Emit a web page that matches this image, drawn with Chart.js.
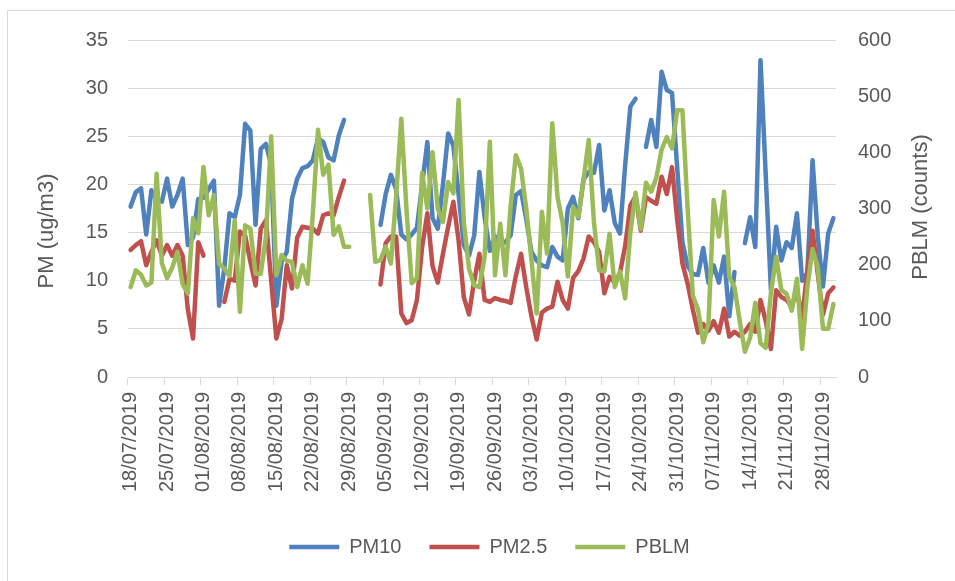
<!DOCTYPE html>
<html>
<head>
<meta charset="utf-8">
<script src="https://cdn.jsdelivr.net/npm/chart.js@4.4.0/dist/chart.umd.min.js"></script>
<style>
  html, body { margin: 0; padding: 0; background: #fff; }
  #wrap { position: relative; width: 955px; height: 581px; overflow: hidden; }
  #frame { position: absolute; left: 7px; top: 10px; width: 970px; height: 600px;
           border: 1px solid #d9d9d9; box-sizing: border-box; pointer-events: none; }
  canvas { position: absolute; left: 0; top: 0; }
</style>
</head>
<body>
<div id="wrap">
  <canvas id="myChart" width="955" height="581"></canvas>
  <div id="frame"></div>
</div>
<script>
const FONT = "'Liberation Sans', Arial, sans-serif";
const TEXT_COLOR = '#595959';
const GRID_COLOR = '#d9d9d9';

// daily categories, 18/07/2019 .. 30/11/2019
const firstDay = { year: 2019, month: 7, day: 18 };
const dayCount = 136;

// dates that get a label on the axis (weekly)
const tickLabels = [
  '18/07/2019', '25/07/2019', '01/08/2019', '08/08/2019', '15/08/2019',
  '22/08/2019', '29/08/2019', '05/09/2019', '12/09/2019', '19/09/2019',
  '26/09/2019', '03/10/2019', '10/10/2019', '17/10/2019', '24/10/2019',
  '31/10/2019', '07/11/2019', '14/11/2019', '21/11/2019', '28/11/2019'
];

const pm10 = [
  17.7, 19.2, 19.6, 14.8, 19.4, 18.4, 18.2, 20.6, 17.7, 18.9,
  20.6, 13.7, 14.5, 18.5, 18.6, 19.5, 20.4, 7.4, 11.3, 17.0,
  16.6, 18.9, 26.3, 25.6, 15.8, 23.7, 24.2, 22.0, 7.4, 12.0,
  13.0, 18.5, 20.6, 21.7, 21.9, 22.5, 24.8, 24.4, 22.8, 22.5,
  25.1, 26.7, null, null, null, null, null, null, 15.8, 19.0,
  21.0, 19.5, 14.8, 14.3, 14.8, 15.5, 20.0, 24.4, 16.5, 15.4,
  20.0, 25.3, 24.0, 19.0, 13.7, 12.6, 14.7, 21.3, 16.6, 13.1,
  14.6, 13.9, 14.0, 14.7, 18.9, 19.3, 16.4, 13.0, 12.1, 11.6,
  11.4, 13.5, 12.5, 12.1, 17.5, 18.7, 16.5, 20.5, 21.3, 21.2,
  24.1, 17.3, 19.4, 16.0, 14.9, 22.0, 28.1, 28.9, null, 23.9,
  26.7, 23.9, 31.7, 29.8, 29.5, 21.7, 14.0, 11.5, 10.7, 10.6,
  13.4, 9.8, 11.6, 9.8, 12.5, 6.3, 10.9, null, 13.9, 16.6,
  13.5, 32.9, 21.0, 9.0, 15.6, 12.1, 14.0, 13.4, 17.0, 10.0,
  10.8, 22.5, 14.6, 9.4, 14.9, 16.5
];

const pm25 = [
  13.2, 13.7, 14.1, 11.6, 13.0, 14.2, 12.6, 13.7, 12.6, 13.7,
  12.6, 7.0, 4.0, 14.0, 12.6, null, null, null, 7.8, 10.2,
  10.0, 15.1, 14.7, 12.0, 9.5, 15.4, 16.3, 10.0, 4.0, 6.0,
  11.6, 9.2, 14.5, 15.6, 15.5, 15.4, 14.9, 16.8, 17.0, 16.8,
  18.7, 20.4, null, null, null, null, null, null, 9.6, 13.9,
  14.6, 14.6, 6.6, 5.6, 5.9, 8.0, 13.5, 17.0, 11.5, 9.8,
  12.8, 15.6, 18.2, 14.2, 8.3, 6.5, 10.0, 12.8, 8.0, 7.8,
  8.2, 8.0, 7.9, 7.7, 10.5, 12.8, 9.3, 6.3, 3.9, 6.7,
  7.1, 7.3, 9.9, 8.0, 7.1, 10.3, 11.0, 12.3, 14.6, 14.0,
  13.0, 8.7, 10.4, 9.8, 10.8, 13.6, 17.8, 18.8, 15.2, 18.7,
  18.3, 18.0, 20.8, 19.0, 21.8, 16.3, 11.8, 9.7, 7.0, 4.6,
  5.5, 4.8, 5.8, 4.6, 7.1, 4.2, 4.7, 4.3, 4.7, 5.5,
  4.7, 8.0, 5.8, 2.9, 9.0, 8.3, 8.0, 7.3, 9.0, 6.1,
  11.1, 15.2, 10.7, 6.5, 8.7, 9.3
];

const pblm = [
  160, 190, 182, 163, 168, 362, 203, 176, 195, 223,
  165, 149, 283, 256, 374, 288, 324, 202, 193, 180,
  279, 116, 270, 264, 184, 184, 250, 428, 181, 217,
  207, 205, 160, 199, 166, 290, 440, 360, 378, 253,
  268, 232, 232, null, null, null, 324, 205, 208, 232,
  202, 321, 460, 297, 167, 176, 363, 300, 400, 300,
  276, 347, 327, 493, 276, 193, 163, 160, 214, 419,
  181, 273, 181, 304, 395, 371, 300, 208, 113, 294,
  220, 452, 321, 274, 179, 303, 285, 351, 422, 276,
  190, 188, 255, 160, 188, 140, 258, 328, 263, 346,
  330, 355, 405, 427, 407, 475, 475, 300, 145, 120,
  62, 95, 315, 250, 330, 178, 160, 100, 45, 70,
  132, 60, 52, 150, 214, 155, 148, 118, 175, 50,
  160, 228, 195, 86, 86, 130
];

const pad2 = n => (n < 10 ? '0' : '') + n;
const days = [];
for (let i = 0; i < dayCount; i++) {
  const d = new Date(Date.UTC(firstDay.year, firstDay.month - 1, firstDay.day + i));
  days.push(pad2(d.getUTCDate()) + '/' + pad2(d.getUTCMonth() + 1) + '/' + d.getUTCFullYear());
}

// excel draws the right axis title bottom-to-top too, so both titles are drawn here
const axisTitlePlugin = {
  id: 'axisTitles',
  afterLayout(chart) {
    // legend sits a bit right of centre in the original
    chart.legend.left += 12;
    chart.legend.right += 12;
  },
  afterDraw(chart) {
    const ctx = chart.ctx;
    const drawUp = (text, x, y) => {
      ctx.save();
      ctx.translate(x, y);
      ctx.rotate(-Math.PI / 2);
      ctx.fillText(text, 0, 0);
      ctx.restore();
    };
    ctx.save();
    ctx.font = '22px ' + FONT;
    ctx.fillStyle = TEXT_COLOR;
    ctx.textAlign = 'center';
    ctx.textBaseline = 'middle';
    drawUp('PM (ug/m3)', chart.scales.y.left + 47, 231);
    drawUp('PBLM (counts)', chart.scales.y1.right - 34, 207);
    ctx.restore();
  }
};

const makeSet = (label, data, color, axis, order) => ({
  label,
  data,
  order,
  borderColor: color,
  backgroundColor: color,
  borderWidth: 4.5,
  pointRadius: 0,
  pointHoverRadius: 0,
  borderCapStyle: 'round',
  borderJoinStyle: 'round',
  tension: 0,
  fill: false,
  yAxisID: axis
});

const tickFont = { family: FONT, size: 20 };

const config = {
  type: 'line',
  data: {
    labels: days,
    datasets: [
      makeSet('PM10', pm10, '#4F81BD', 'y', 2),
      makeSet('PM2.5', pm25, '#C0504D', 'y', 1),
      makeSet('PBLM', pblm, '#9BBB59', 'y1', 0)
    ]
  },
  options: {
    responsive: false,
    animation: false,
    devicePixelRatio: 1,
    layout: { padding: { top: 40, bottom: 14, left: 0, right: 0 } },
    plugins: {
      tooltip: { enabled: false },
      legend: {
        position: 'bottom',
        labels: {
          usePointStyle: true,
          pointStyle: 'line',
          pointStyleWidth: 50,
          padding: 28,
          color: TEXT_COLOR,
          font: { family: FONT, size: 20 },
          sort: (a, b) => a.datasetIndex - b.datasetIndex
        }
      }
    },
    scales: {
      x: {
        type: 'category',
        offset: true,
        grid: {
          offset: true,
          drawOnChartArea: false,
          drawTicks: true,
          tickLength: 8,
          color: c => (c.index !== undefined && c.index % 7 === 0 ? GRID_COLOR : 'rgba(0,0,0,0)')
        },
        border: { color: GRID_COLOR },
        ticks: {
          autoSkip: false,
          minRotation: 90,
          maxRotation: 90,
          padding: 7,
          color: TEXT_COLOR,
          font: tickFont,
          callback: (value, index) => (tickLabels.includes(days[index]) ? days[index] : '')
        },
        afterFit: s => { s.height = 132; }
      },
      y: {
        position: 'left',
        min: 0,
        max: 35,
        ticks: { stepSize: 5, padding: 20, color: TEXT_COLOR, font: tickFont },
        grid: { color: GRID_COLOR, drawTicks: false },
        border: { display: false },
        afterFit: s => { s.width = 128; }
      },
      y1: {
        position: 'right',
        min: 0,
        max: 600,
        ticks: { stepSize: 100, padding: 22, color: TEXT_COLOR, font: tickFont },
        grid: { drawOnChartArea: false, drawTicks: false },
        border: { display: false },
        afterFit: s => { s.width = 119; }
      }
    }
  },
  plugins: [axisTitlePlugin]
};

const ctx = document.getElementById('myChart').getContext('2d');
const myChart = new Chart(ctx, config);
</script>
</body>
</html>
